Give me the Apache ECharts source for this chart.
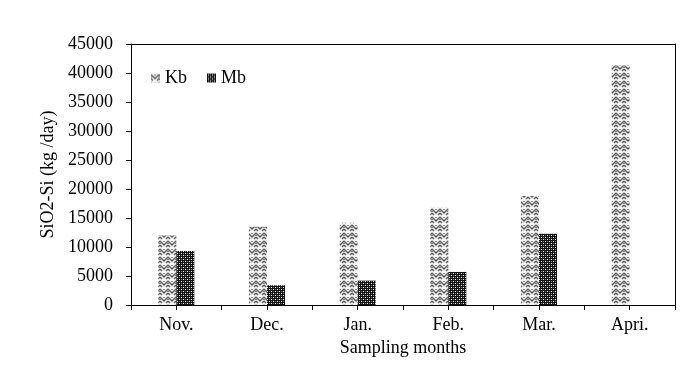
<!DOCTYPE html>
<html><head><meta charset="utf-8">
<script src="https://cdn.jsdelivr.net/npm/echarts@6/dist/echarts.min.js"></script>
<style>html,body{margin:0;padding:0;background:#fff}#c{width:699px;height:371px}</style>
</head><body><div id="c"></div>
<script>
const categories = ['Nov.', 'Dec.', 'Jan.', 'Feb.', 'Mar.', 'Apri.'];
const kbValues = [12000, 13500, 14200, 16800, 18800, 41300];
const mbValues = [9300, 3400, 4200, 5700, 12300, 0];
const yTicks = [0, 5000, 10000, 15000, 20000, 25000, 30000, 35000, 40000, 45000];

function makeKb() {
  const c = document.createElement('canvas'); c.width = 8; c.height = 8;
  const g = c.getContext('2d');
  g.fillStyle = '#f4f4f4'; g.fillRect(0, 0, 8, 8);
  g.strokeStyle = '#555'; g.lineWidth = 1.3;
  g.beginPath();
  g.moveTo(0, 1); g.lineTo(4, 5); g.lineTo(8, 1);
  g.moveTo(0, 5); g.lineTo(2, 7); g.moveTo(6, 7); g.lineTo(8, 5);
  g.stroke();
  g.fillStyle = '#888'; g.fillRect(3, 1, 2, 1); g.fillRect(0, 3, 1, 1); g.fillRect(7, 3, 1, 1);
  return c;
}
function makeMb() {
  const c = document.createElement('canvas'); c.width = 4; c.height = 4;
  const g = c.getContext('2d');
  g.fillStyle = '#111'; g.fillRect(0, 0, 4, 4);
  g.fillStyle = '#ffffff'; g.fillRect(1, 1, 1, 1); g.fillRect(3, 3, 1, 1);
  g.fillStyle = '#888'; g.fillRect(3, 1, 1, 1); g.fillRect(1, 3, 1, 1);
  return c;
}
const kbPat = { image: makeKb(), repeat: 'repeat' };
const mbPat = { image: makeMb(), repeat: 'repeat' };
const font = 'Liberation Serif';
const fs = 18;
const chart = echarts.init(document.getElementById('c'));
chart.setOption({
  animation: false,
  textStyle: { fontFamily: font },
  grid: { left: 131, right: 24, top: 44, bottom: 66 },
  legend: {
    left: 146, top: 64, itemWidth: 9, itemHeight: 9, itemGap: 20,
    icon: 'rect',
    textStyle: { fontFamily: font, fontSize: fs, color: '#000' },
    data: ['Kb', 'Mb']
  },
  xAxis: [
    { type: 'category', data: categories, position: 'bottom',
      axisLine: { lineStyle: { color: '#000', width: 1 } },
      axisTick: { show: true, length: 5, lineStyle: { color: '#000' } },
      axisLabel: { fontFamily: font, fontSize: fs, color: '#000', margin: 11 },
      name: 'Sampling months', nameLocation: 'middle', nameGap: 34,
      nameTextStyle: { fontFamily: font, fontSize: fs, color: '#000' } },
    { type: 'category', data: categories, position: 'bottom',
      axisLine: { show: false },
      axisTick: { show: true, alignWithLabel: true, length: 5, lineStyle: { color: '#000' } },
      axisLabel: { show: false } },
    { type: 'category', data: categories, position: 'top',
      axisLine: { lineStyle: { color: '#000' } }, axisTick: { show: false }, axisLabel: { show: false } }
  ],
  yAxis: [
    { type: 'value', min: 0, max: 45000, interval: 5000,
      axisLine: { show: true, lineStyle: { color: '#000' } },
      axisTick: { show: true, length: 5, lineStyle: { color: '#000' } },
      splitLine: { show: false },
      axisLabel: { fontFamily: font, fontSize: fs, color: '#000', margin: 18,
        formatter: v => yTicks.includes(v) ? String(v) : '' },
      name: 'SiO2-Si (kg /day)', nameLocation: 'middle', nameGap: 74,
      nameTextStyle: { fontFamily: font, fontSize: fs, color: '#000' } },
    { type: 'value', min: 0, max: 45000, interval: 5000, position: 'right',
      axisLine: { show: true, lineStyle: { color: '#000' } },
      axisTick: { show: false }, axisLabel: { show: false }, splitLine: { show: false } }
  ],
  series: [
    { name: 'Kb', type: 'bar', data: kbValues, barWidth: 18, barGap: '0%',
      itemStyle: { color: kbPat } },
    { name: 'Mb', type: 'bar', data: mbValues, barWidth: 18, barGap: '0%',
      itemStyle: { color: mbPat } }
  ]
});
</script></body></html>
